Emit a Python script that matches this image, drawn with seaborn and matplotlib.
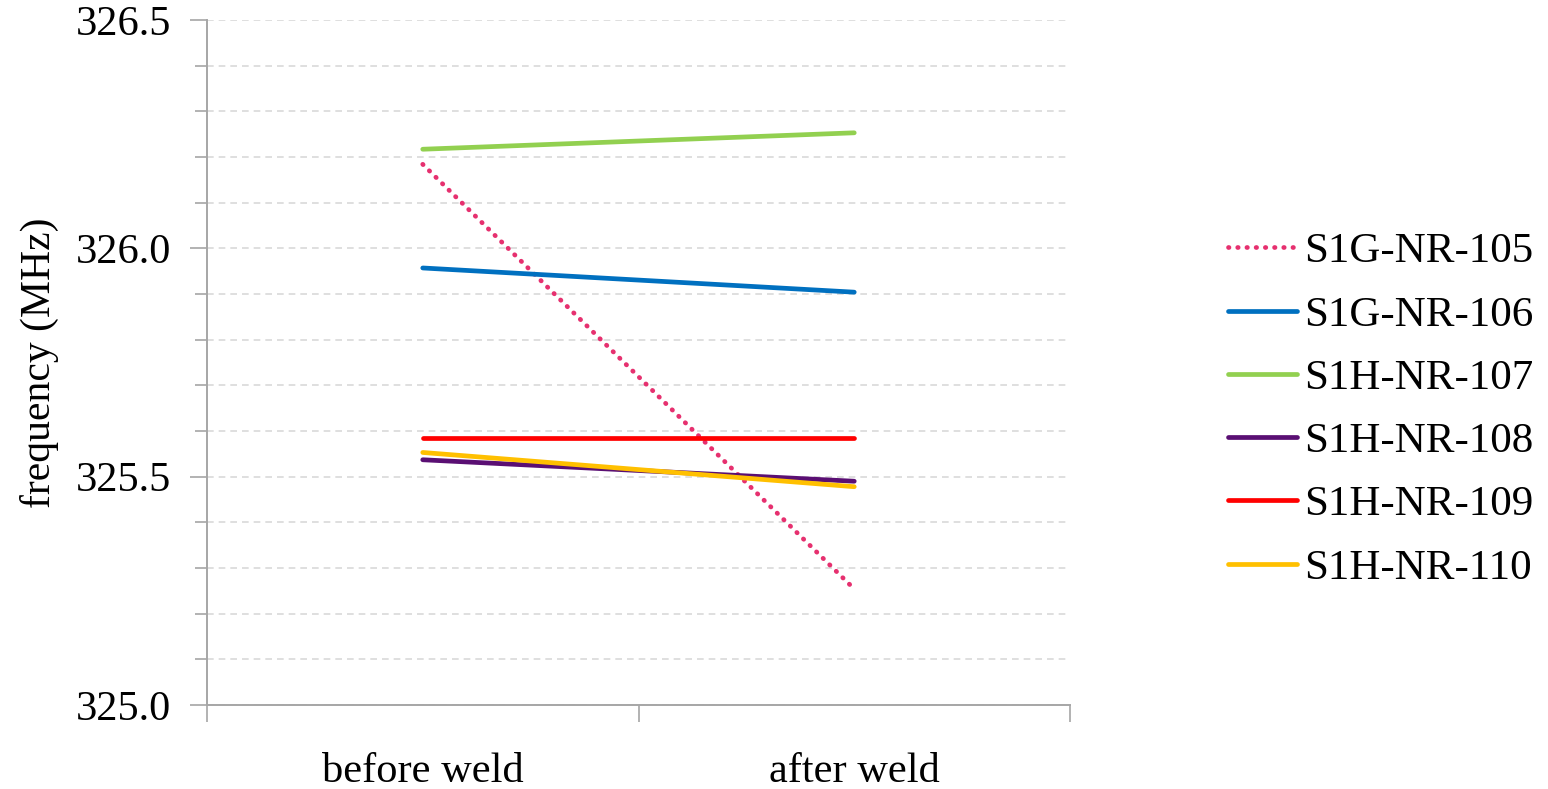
import pandas as pd
import matplotlib.pyplot as plt
import seaborn as sns
from matplotlib.ticker import MultipleLocator, FormatStrFormatter

# data
stages = ['before weld', 'after weld']
sensors = ['S1G-NR-105', 'S1G-NR-106', 'S1H-NR-107', 'S1H-NR-108', 'S1H-NR-109', 'S1H-NR-110']
before = [326.184, 325.957, 326.217, 325.537, 325.584, 325.553]
after = [325.254, 325.904, 326.253, 325.490, 325.584, 325.478]
colors = ['#E6306F', '#0070C0', '#92D050', '#5A0F73', '#FF0000', '#FFC000']

df = pd.DataFrame({'sensor': sensors, stages[0]: before, stages[1]: after})
df_long = df.melt(id_vars='sensor', var_name='stage', value_name='freq')

sns.set_style('white')
plt.rcParams['font.family'] = ['Liberation Serif', 'DejaVu Serif']
plt.rcParams['text.color'] = 'black'
plt.rcParams['xtick.labelcolor'] = 'black'
plt.rcParams['ytick.labelcolor'] = 'black'
plt.rcParams['axes.labelcolor'] = 'black'

fig = plt.figure(figsize=(15.48, 7.89), dpi=100)
ax = fig.add_axes([207 / 1548, 1 - 705 / 789, (1070 - 207) / 1548, (705 - 20) / 789])

for name, c in zip(sensors, colors):
    sub = df_long[df_long['sensor'] == name]
    if name == 'S1G-NR-105':
        sns.lineplot(x='stage', y='freq', data=sub, ax=ax, color=c, lw=3.4,
                     linestyle=(0, (0.1, 1.85)), dash_capstyle='round', label=name)
    else:
        sns.lineplot(x='stage', y='freq', data=sub, ax=ax, color=c, lw=3.4,
                     solid_capstyle='round', label=name)

ax.set_ylim(325.0, 326.5)
ax.set_xlim(-0.5, 1.5)
ax.yaxis.set_major_locator(MultipleLocator(0.5))
ax.yaxis.set_minor_locator(MultipleLocator(0.1))
ax.yaxis.set_major_formatter(FormatStrFormatter('%.1f'))
ax.grid(True, which='both', axis='y', color='#D9D9D9', linestyle=(0, (4, 3)), lw=1.2)
ax.set_axisbelow(True)

ax.set_xticks([0, 1])
ax.set_xticklabels(stages)
ax.set_xticks([-0.5, 0.5, 1.5], minor=True)
ax.tick_params(axis='x', which='major', length=0, pad=34, labelsize=30.5)
ax.tick_params(axis='x', which='minor', length=12, width=1.2, color='#A6A6A6', direction='out', bottom=True)
ax.tick_params(axis='y', which='major', length=12, width=1.2, color='#A6A6A6', direction='out', left=True, pad=14, labelsize=30.5)
ax.tick_params(axis='y', which='minor', length=9, width=1.2, color='#A6A6A6', direction='out', left=True)

for s in ['top', 'right']:
    ax.spines[s].set_visible(False)
for s in ['left', 'bottom']:
    ax.spines[s].set_color('#A6A6A6')
    ax.spines[s].set_linewidth(1.4)

ax.set_xlabel('')
ax.set_ylabel('frequency (MHz)', fontsize=30)
ax.yaxis.set_label_coords(-0.172, 0.5)

ax.legend(loc='center left', bbox_to_anchor=(1228 / 1548, 1 - 410 / 789), bbox_transform=fig.transFigure,
          frameon=False, fontsize=31, handlelength=1.6, handletextpad=0.17, labelspacing=0.56,
          borderpad=0, borderaxespad=0)

plt.savefig('out.png', dpi=100)
